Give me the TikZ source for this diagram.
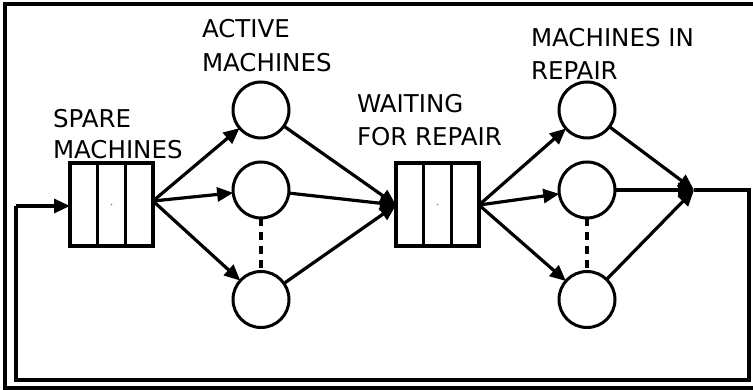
\documentclass[tikz,border=0pt]{standalone}
\usepackage{fontspec}
\setmainfont{DejaVu Sans}
\usetikzlibrary{arrows.meta,calc}

\begin{document}
\begin{tikzpicture}[x=1pt,y=-1pt,
  every node/.style={inner sep=0pt,outer sep=0pt},
  lbl/.style={anchor=base west,font=\fontsize{24.5}{30}\selectfont},
  queuebox/.style={draw,line width=3.2pt,minimum width=83pt,minimum height=83pt},
  server/.style={circle,draw,line width=3pt,minimum size=56pt},
  flow/.style={line width=3.2pt,-{Triangle[length=16pt,width=14pt]}},
  wire/.style={line width=3.2pt},
  dots/.style={line width=3.2pt,dash pattern=on 8pt off 6pt}]

\useasboundingbox (0,0) rectangle (753,390);

% outer frame (open on the right)
\draw[line width=3.5pt] (753,4) -- (5,4) -- (5,388) -- (753,388);

% labels
\node[lbl] (spareA) at (53,127.3) {SPARE};
\node[lbl] (spareB) at (53,158.3) {MACHINES};
\node[lbl] (activeA) at (202,37.3) {ACTIVE};
\node[lbl] (activeB) at (202,71.7) {MACHINES};
\node[lbl] (waitA) at (357,112.3) {WAITING};
\node[lbl] (waitB) at (357,146) {FOR REPAIR};
\node[lbl] (repA) at (531,46.7) {MACHINES IN};
\node[lbl] (repB) at (531,79.3) {REPAIR};

% queues
\node[queuebox] (spare) at (111.5,204.5) {};
\node[queuebox] (wait) at (437.5,204.5) {};
\foreach \q in {spare,wait} {
  \draw[line width=3.2pt] ($(\q.north west)!1/3!(\q.north east)$) -- ($(\q.south west)!1/3!(\q.south east)$);
  \draw[line width=3.2pt] ($(\q.north west)!2/3!(\q.north east)$) -- ($(\q.south west)!2/3!(\q.south east)$);
  \fill[gray] (\q.center) circle (0.9pt);
}

% servers
\node[server] (a1) at (261,110) {};
\node[server] (a2) at (261,190) {};
\node[server] (a3) at (261,299.5) {};
\node[server] (r1) at (587,110) {};
\node[server] (r2) at (587,190) {};
\node[server] (r3) at (587,299.5) {};

\draw[dots] (a2.south) -- (a3.north);
\draw[dots] (r2.south) -- (r3.north);

% junction points
\coordinate (spareout) at (153,201);
\coordinate (waitin) at (396,205);
\coordinate (waitout) at (479,205);
\coordinate (merge) at (694,190);
\coordinate (c1) at (749,190);
\coordinate (c2) at (749,380);
\coordinate (c3) at (16,380);
\coordinate (c4) at (16,206);
\coordinate (sparein) at (70,206);

% spare -> active
\foreach \n in {a1,a2,a3} \draw[flow] (spareout) -- (\n);
% active -> waiting
\foreach \n in {a1,a2,a3} \draw[flow] (\n) -- (waitin);
% waiting -> repair
\foreach \n in {r1,r2,r3} \draw[flow] (waitout) -- (\n);
% repair -> merge
\foreach \n in {r1,r2,r3} \draw[flow] (\n) -- (merge);

% feedback loop
\draw[wire] (merge) -- (c1) -- (c2) -- (c3) -- (c4);
\draw[flow] (c4) -- (sparein);
\end{tikzpicture}
\end{document}
